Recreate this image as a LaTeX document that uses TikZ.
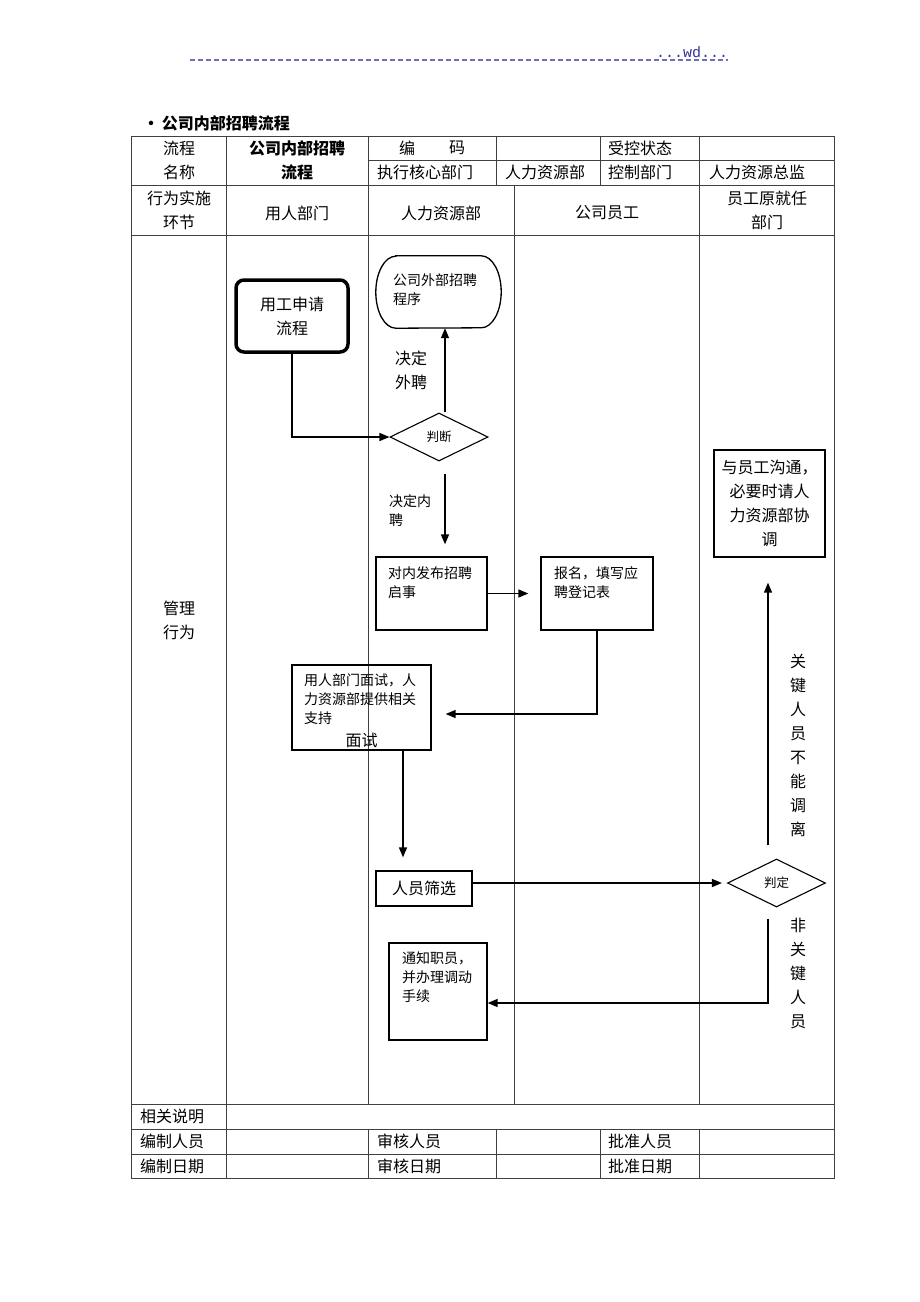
\documentclass[tikz,border=0pt]{standalone}
\usepackage{fontspec}
\usetikzlibrary{arrows.meta,positioning,shapes.geometric}
\newfontfamily\cjk{Noto Sans CJK SC}
\newfontfamily\wdmono{Liberation Mono}
\tikzset{>={Triangle[length=10pt,width=8pt]}}
\definecolor{hdrblue}{RGB}{51,51,153}
\definecolor{dashblue}{RGB}{110,110,185}
\tikzset{
  tabline/.style={line width=1pt,black!75},
  tabtext/.style={font=\cjk\fontsize{16}{24}\selectfont,inner sep=0pt,align=center},
  lefttext/.style={tabtext,anchor=west,align=left},
  flowbox/.style={draw,line width=1.3pt,inner sep=0pt},
  boxtext/.style={font=\cjk\fontsize{14}{19}\selectfont,inner sep=0pt,align=left,anchor=west},
  flow/.style={line width=1.4pt,->},
  decide/.style={draw,diamond,line width=1.1pt,inner sep=0pt,minimum width=98pt,minimum height=48pt,font=\cjk\fontsize{12.5}{14}\selectfont}
}

\begin{document}
\begin{tikzpicture}[x=1pt,y=-1pt]
\useasboundingbox (0,0) rectangle (920,1302);
\fill[white] (0,0) rectangle (920,1302);
\draw[dashblue,line width=1.2pt,dash pattern=on 5pt off 3pt] (190,60) -- (728,60);
\node[inner sep=0pt,font=\wdmono\fontsize{15}{16}\selectfont,text=hdrblue] (wd) at (692,52) {...wd...};
\node[anchor=west,inner sep=0pt,font=\cjk\bfseries\fontsize{16}{20}\selectfont] (title) at (143,123) {\textbullet\,公司内部招聘流程};

\draw[tabline] (131,136) rectangle (834,1178);
\draw[tabline] (368,160) -- (834,160);
\foreach \y in {185,235,1104,1129,1154}
  \draw[tabline] (131,\y) -- (834,\y);
\draw[tabline] (226,136) -- (226,1178);
\draw[tabline] (368,136) -- (368,1104) (368,1129) -- (368,1178);
\draw[tabline] (699,136) -- (699,1104) (699,1129) -- (699,1178);
\draw[tabline] (514,185) -- (514,1104);
\foreach \x in {496,600} {
  \draw[tabline] (\x,136) -- (\x,185);
  \draw[tabline] (\x,1129) -- (\x,1178);
}

\node[tabtext] (flowname) at (179,160) {流程\\名称};
\node[tabtext,font=\cjk\bfseries\fontsize{16}{24}\selectfont] (flowtitle) at (297,160) {公司内部招聘\\流程};
\node[tabtext] (codebian) at (407,148) {编};
\node[tabtext] (codema) at (457,148) {码};
\node[lefttext] (ctrlstate) at (608,148) {受控状态};
\node[lefttext] (coredept) at (377,172) {执行核心部门};
\node[lefttext] (hrdept) at (505,172) {人力资源部};
\node[lefttext] (ctrldept) at (608,172) {控制部门};
\node[lefttext] (hrhead) at (709,172) {人力资源总监};
\node[tabtext] (stage) at (179,210) {行为实施\\环节};
\node[tabtext] (laneuse) at (297,213) {用人部门};
\node[tabtext] (lanehr) at (441,213) {人力资源部};
\node[tabtext] (lanestaff) at (607,213) {公司员工};
\node[tabtext] (laneorig) at (767,210) {员工原就任\\部门};
\node[tabtext] (mgmt) at (179,620) {管理\\行为};
\node[lefttext] (notes) at (140,1116) {相关说明};
\node[lefttext] (editor) at (140,1141) {编制人员};
\node[lefttext] (editdate) at (140,1166) {编制日期};
\node[lefttext] (checker) at (377,1141) {审核人员};
\node[lefttext] (checkdate) at (377,1166) {审核日期};
\node[lefttext] (approver) at (608,1141) {批准人员};
\node[lefttext] (approvedate) at (608,1166) {批准日期};

\node[flowbox,rounded corners=8pt,line width=3.5pt,minimum width=112pt,minimum height=72pt,tabtext] (req) at (292,316) {用工申请\\流程};
\node[minimum width=125pt,minimum height=72pt,inner sep=0pt] (ext) at (438.5,292) {};
\draw[line width=1.3pt] ([xshift=20pt]ext.north west) -- ([xshift=-20pt]ext.north east)
  arc[start angle=90,end angle=-90,x radius=20pt,y radius=36pt]
  -- ([xshift=20pt]ext.south west)
  arc[start angle=270,end angle=90,x radius=20pt,y radius=36pt] -- cycle;
\node[boxtext] (exttext) at (393,290) {公司外部招聘\\程序};
\node[decide] (judge) at (439,437) {判断};
\node[lefttext] (outlabel) at (395,370) {决定\\外聘};
\node[boxtext] (inlabel) at (389,510.5) {决定内\\聘};
\node[flowbox,minimum width=111pt,minimum height=73pt] (pub) at (431.5,593.5) {};
\node[boxtext] (pubtext) at (388,583) {对内发布招聘\\启事};
\node[flowbox,minimum width=112pt,minimum height=73pt] (sign) at (597,593.5) {};
\node[boxtext] (signtext) at (554,583) {报名，填写应\\聘登记表};
\node[flowbox,minimum width=139pt,minimum height=85pt] (interview) at (361.5,707.5) {};
\node[boxtext] (itvtext) at (304,699) {用人部门面试，人\\力资源部提供相关\\支持};
\node[tabtext] (itvnote) at (361.5,740) {面试};
\node[flowbox,minimum width=96pt,minimum height=35pt,tabtext] (screen) at (424,888.5) {人员筛选};
\node[decide] (verdict) at (776.5,883) {判定};
\node[flowbox,minimum width=111pt,minimum height=107pt,tabtext] (talk) at (769.5,503.5) {与员工沟通，\\必要时请人\\力资源部协\\调};
\node[tabtext] (keylabel) at (798,745) {关\\键\\人\\员\\不\\能\\调\\离};
\node[tabtext] (nonkeylabel) at (798,973.5) {非\\关\\键\\人\\员};
\node[flowbox,minimum width=98pt,minimum height=97pt] (notify) at (438,991.5) {};
\node[boxtext] (notifytext) at (402,977.5) {通知职员，\\并办理调动\\手续};

\draw[flow] (req.south) |- (judge.west);
\draw[flow] ([xshift=6pt]judge.north) -- ([xshift=6pt]judge.north |- ext.south);
\draw[flow] ([xshift=6pt,yshift=-12pt]judge.south) -- ([xshift=13.5pt,yshift=12pt]pub.north);
\draw[flow] (pub.east) -- ([xshift=-12pt]sign.west);
\draw[flow] (sign.south) |- ([xshift=14pt,yshift=-6.5pt]interview.east);
\draw[flow] ([xshift=41.5pt]interview.south) -- ([xshift=-21pt,yshift=13pt]screen.north);
\draw[flow] ([yshift=5.5pt]screen.east) -- ([xshift=-5pt]verdict.west);
\draw[flow] ([xshift=-8.5pt,yshift=13pt]verdict.north) -- ([xshift=-1.5pt,yshift=-25pt]talk.south);
\draw[flow] ([xshift=-8.5pt,yshift=-11pt]verdict.south) |- ([yshift=-11.5pt]notify.east);
\end{tikzpicture}
\end{document}
